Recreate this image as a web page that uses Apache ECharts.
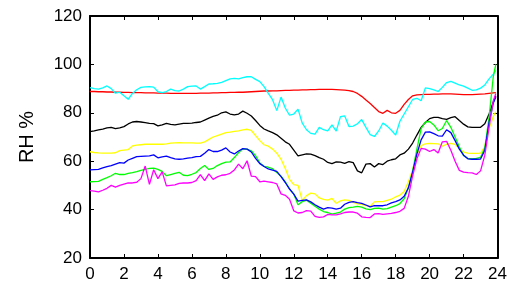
<!DOCTYPE html>
<html><head><meta charset="utf-8">
<script src="https://cdn.jsdelivr.net/npm/echarts@6/dist/echarts.min.js"></script>
<style>html,body{margin:0;padding:0;background:#fff}#c{width:510px;height:287px}</style>
</head><body><div id="c"></div>
<script>
// time axis: quarter-hour samples, last sample at 23.9 h
const STEP = 0.25, LAST_HOUR = 23.9;
const xTicks = [0,2,4,6,8,10,12,14,16,18,20,22,24];
const yTicks = [20,40,60,80,100,120];
const red = [88.8,88.8,88.7,88.7, 88.6,88.6,88.5,88.5, 88.4,88.4,88.3,88.3, 88.3,88.2,88.2,88.2,
 88.1,88.1,88.1,88.0, 88.0,88.0,88.0,88.0, 88.0,88.0,88.1,88.1, 88.1,88.2,88.2,88.3,
 88.3,88.4,88.4,88.5, 88.5,88.6,88.7,88.8, 88.9,89.0,89.0,89.1, 89.1,89.2,89.3,89.3,
 89.4,89.4,89.5,89.5, 89.6,89.6,89.7,89.7, 89.7,89.7,89.6,89.5, 89.4,89.2,88.8,88.0,
 86.8,85.3,83.8,82.2, 80.5,79.8,81.0,80.0, 79.8,81.0,83.5,85.5, 87.0,87.4,87.5,87.6,
 87.6,87.7,87.7,87.8, 87.8,87.8,87.7,87.6, 87.5,87.5,87.5,87.6, 87.7,87.8,88.0,88.2, 88.3];
const cyan = [90.4,90.0,89.8,90.3, 91.1,90.0,88.1,88.5, 87.0,85.6,88.0,89.5, 90.5,90.7,90.8,90.6,
 88.7,88.3,88.8,89.8, 89.2,89.0,89.8,90.8, 91.0,91.1,89.8,90.8, 91.9,92.0,92.2,92.6,
 93.3,94.0,94.2,94.0, 94.5,94.9,94.9,93.8, 92.9,90.8,88.0,85.4, 80.9,86.5,82.0,79.0,
 79.5,81.5,75.7,73.0, 71.5,71.2,74.0,73.0, 72.5,75.0,72.4,78.4, 78.7,74.3,74.5,75.5,
 77.2,74.0,71.0,70.2, 72.5,75.8,74.5,72.8, 70.8,76.5,79.5,82.5, 85.5,86.0,85.0,90.3,
 90.0,89.5,88.8,90.5, 92.5,93.0,92.3,91.5, 91.0,90.2,89.3,89.5, 90.2,91.5,94.0,96.0, 97.5];
const black = [72.2,72.5,72.9,73.3, 73.8,74.0,73.5,73.8, 74.3,75.4,76.2,76.4, 76.2,75.9,75.6,75.5,
 74.6,75.0,75.6,75.2, 75.0,75.3,75.6,75.6, 75.7,76.0,76.2,77.0, 77.8,78.5,79.0,80.0,
 80.4,79.5,79.1,79.5, 80.7,79.8,78.7,76.8, 74.8,73.3,72.5,71.8, 70.9,69.5,68.0,67.0,
 64.6,62.2,62.6,63.0, 62.9,62.3,61.5,60.8, 59.5,59.0,59.7,59.6, 59.1,59.8,59.4,56.0,
 55.2,58.8,59.0,57.6, 59.0,58.6,60.0,60.6, 61.0,62.6,63.3,65.0, 67.5,70.8,74.0,76.0,
 77.6,78.1,78.1,77.6, 77.3,78.0,78.4,76.8, 75.3,74.2,74.0,74.0, 74.0,75.5,79.5,84.5, 87.0];
const yellow = [63.9,63.6,63.4,63.3, 63.3,63.3,63.5,64.4, 64.6,64.8,66.3,66.6, 66.8,67.0,67.0,67.0,
 67.0,67.0,67.2,67.5, 67.6,67.7,67.6,67.6, 67.6,67.5,67.5,68.0, 69.0,70.0,70.6,71.2,
 71.8,72.0,72.3,72.5, 72.9,73.2,72.7,70.6, 68.5,66.8,66.2,65.0, 63.3,60.8,57.0,52.5,
 50.3,50.0,43.8,45.8, 46.8,46.5,44.8,44.2, 43.9,44.6,42.6,43.6, 44.0,43.8,43.0,42.4,
 42.2,41.6,41.4,43.2, 43.3,43.3,43.8,44.3, 45.3,46.0,47.5,51.5, 56.4,62.8,66.4,67.2,
 67.4,67.3,67.2,66.2, 67.0,67.4,67.0,65.2, 63.8,63.3,63.2,63.2, 63.3,66.0,73.5,78.5, 80.5];
const blue = [56.4,56.5,56.6,57.2, 57.8,58.2,58.8,59.4, 59.2,60.5,61.2,61.9, 62.0,62.1,62.2,62.6,
 61.4,61.8,62.1,61.5, 61.0,60.8,61.0,61.3, 61.5,61.9,62.0,63.3, 64.8,64.0,64.0,64.6,
 65.5,63.8,63.0,64.2, 65.2,65.0,63.8,61.2, 59.0,57.8,56.8,56.3, 55.8,53.6,51.2,48.5,
 46.4,43.5,43.8,44.0, 43.2,42.0,41.0,40.2, 40.8,40.6,40.2,40.6, 42.2,43.0,43.3,42.9,
 42.6,41.9,41.1,41.6, 41.6,41.6,42.0,42.8, 43.3,44.0,45.5,49.0, 55.5,63.0,68.8,72.0,
 72.1,71.4,70.5,70.4, 73.0,71.8,68.5,65.0, 62.5,61.0,60.8,60.8, 60.9,64.5,76.0,84.0, 86.5];
const green = [51.5,51.6,51.7,52.5, 53.2,54.0,55.0,54.5, 54.5,55.0,55.3,55.7, 56.2,56.6,57.0,57.1,
 56.6,55.8,54.0,54.5, 55.0,55.4,54.2,54.0, 54.6,55.3,57.0,58.2, 56.6,57.0,58.2,59.0,
 59.6,59.7,61.5,63.6, 65.0,65.0,64.3,62.3, 59.3,57.9,57.5,56.9, 55.3,53.8,51.5,48.6,
 46.4,42.0,43.3,43.9, 42.6,41.4,40.2,39.2, 38.8,38.1,38.5,39.0, 40.2,40.8,41.0,41.3,
 41.0,40.3,40.0,40.5, 40.6,40.2,40.4,41.0, 41.6,42.5,44.5,49.0, 56.0,65.0,73.5,76.2,
 76.4,75.0,72.6,73.5, 76.8,74.0,70.0,66.0, 62.3,61.2,61.0,61.2, 61.6,65.5,78.0,95.0, 100.0];
const magenta = [47.8,47.6,47.3,48.0, 48.8,50.0,49.3,50.0, 50.5,51.0,51.0,51.3, 52.8,58.0,50.4,56.5,
 52.8,55.6,49.8,50.0, 50.2,50.8,51.0,51.0, 51.2,52.0,54.5,52.0, 54.8,52.5,53.5,54.2,
 54.4,55.0,56.4,58.8, 56.9,60.2,53.8,53.6, 51.5,51.8,51.5,51.2, 50.6,46.5,45.9,44.3,
 39.5,38.6,38.8,39.6, 39.4,37.2,36.8,37.0, 38.0,37.8,37.8,38.2, 38.8,39.0,39.0,38.5,
 37.0,36.8,36.7,38.2, 38.3,38.0,38.2,38.4, 38.8,39.3,40.5,45.5, 54.0,61.0,65.3,65.0,
 64.0,64.8,63.4,68.0, 68.2,64.5,60.0,56.2, 55.5,55.3,55.2,54.5, 56.0,62.5,74.0,85.0, 88.0];

const hours = red.map((_, i) => i === red.length - 1 ? LAST_HOUR : i * STEP);
const pairs = v => v.map((y, i) => [hours[i], y]);

const FONT = 'Liberation Sans, Arial, sans-serif';
const axisLine = {show: true, onZero: false, lineStyle: {color: '#000', width: 2}};
const axisTick = {show: true, inside: true, length: 4, lineStyle: {color: '#000', width: 1}};
const xBase = {type: 'value', min: 0, max: 24, interval: 2, splitLine: {show: false}, axisLine, axisTick};
const yBase = {type: 'value', min: 20, max: 120, interval: 20, splitLine: {show: false}, axisLine, axisTick};

const seriesDefs = [
  ['red', red, '#ff0000'], ['cyan', cyan, '#00ffff'], ['black', black, '#000000'],
  ['yellow', yellow, '#ffff00'], ['green', green, '#00ff00'], ['blue', blue, '#0000ff'],
  ['magenta', magenta, '#ff00ff']
];

const chart = echarts.init(document.getElementById('c'), null, {renderer: 'canvas'});
chart.setOption({
  animation: false,
  backgroundColor: '#fff',
  grid: {left: 90, right: 11, top: 16, bottom: 29, containLabel: false},
  xAxis: [
    Object.assign({}, xBase, {position: 'bottom',
      axisLabel: {show: true, color: '#000', fontSize: 17, fontFamily: FONT, margin: 8,
        formatter: v => xTicks.includes(v) ? String(v) : ''}}),
    Object.assign({}, xBase, {position: 'top', axisLabel: {show: false}})
  ],
  yAxis: [
    Object.assign({}, yBase, {position: 'left', name: 'RH %', nameLocation: 'middle', nameGap: 53, nameRotate: 90,
      nameTextStyle: {color: '#000', fontSize: 20, fontFamily: FONT},
      axisLabel: {show: true, color: '#000', fontSize: 17, fontFamily: FONT, margin: 8,
        formatter: v => yTicks.includes(v) ? String(v) : ''}}),
    Object.assign({}, yBase, {position: 'right', axisLabel: {show: false}})
  ],
  series: seriesDefs.map(([name, vals, color]) => ({
    name, type: 'line', data: pairs(vals), xAxisIndex: 0, yAxisIndex: 0,
    showSymbol: false, symbol: 'none', smooth: false,
    lineStyle: {color, width: 1.3}, itemStyle: {color}
  }))
});
</script></body></html>
